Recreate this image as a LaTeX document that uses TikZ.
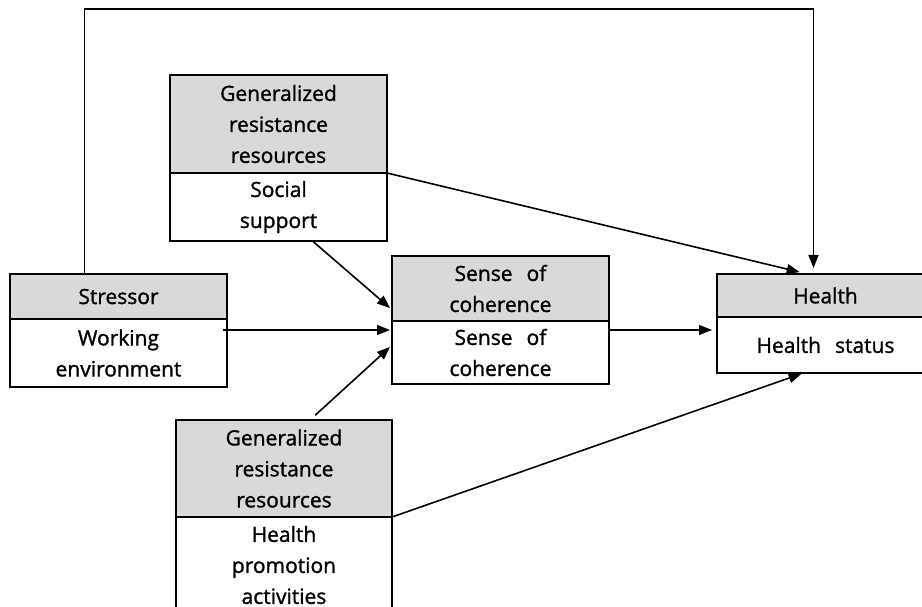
\documentclass[tikz,border=0pt]{standalone}
\usepackage{fontspec}
\setmainfont{Open Sans}[RawFeature={embolden=1.3}]
\usetikzlibrary{arrows.meta,positioning}
\definecolor{headgray}{RGB}{217,217,217}
\tikzset{
  head/.style  = {draw,fill=headgray,minimum width=217pt,text width=205pt,
                  align=center,inner sep=0pt,outer sep=0pt,line width=1.7pt,
                  font=\fontsize{21}{31}\selectfont},
  body/.style  = {head,fill=white},
  arrow/.style = {-{Triangle[length=13pt,width=10pt]},line width=1.6pt},
}
\begin{document}
\begin{tikzpicture}[x=1pt,y=-1pt]
  \clip (0,0) rectangle (922,607);
  \fill[white] (0,0) rectangle (922,607);
  % boxes
  \node[head,anchor=north west,minimum height=98pt] (grrTop) at (170,75) {Generalized\\resistance\\resources};
  \node[body,below=0pt of grrTop,minimum height=68pt] (ssBody) {Social\\support};
  \node[head,anchor=north west,minimum height=45pt] (strHead) at (10,274) {Stressor};
  \node[body,below=0pt of strHead,minimum height=68pt] (strBody) {Working\\environment};
  \node[head,anchor=north west,minimum height=65pt] (socHead) at (392,256) {Sense\ \ of\\coherence};
  \node[body,below=0pt of socHead,minimum height=63pt] (socBody) {Sense\ \ of\\coherence};
  \node[head,anchor=north west,minimum height=43pt] (hlHead) at (717,274) {Health};
  \node[body,below=0pt of hlHead,minimum height=56pt] (hlBody) {Health\ \ status};
  \node[head,anchor=north west,minimum height=97pt,minimum width=216pt] (grrBot) at (176,420) {Generalized\\resistance\\resources};
  \node[body,below=0pt of grrBot,minimum height=96pt,minimum width=216pt] (hpBody) {Health\\promotion\\activities};
  % connectors
  \coordinate (topLine) at (450,9);
  \draw[arrow,shorten >=6pt] ([xshift=-34pt]strHead.north) |- (topLine) -| ([xshift=-12pt]hlHead.north);
  \draw[arrow,shorten >=8pt] (grrTop.south east) -- ([xshift=-18pt]hlHead.north);
  \draw[arrow] ([xshift=34pt]ssBody.south) -- ([yshift=13pt,xshift=-2pt]socHead.south west);
  \draw[arrow] ([yshift=-11pt,xshift=-4pt]strBody.north east) -- ([yshift=-9pt,xshift=-2pt]socBody.north west);
  \draw[arrow,shorten <=7pt] ([xshift=26pt]grrBot.north) -- ([yshift=-26pt,xshift=-2pt]socBody.north west);
  \draw[arrow,shorten >=5pt] ([yshift=-9pt]socBody.north east) -- ([yshift=-13pt]hlBody.north west);
  \draw[arrow,shorten >=2pt] (grrBot.south east) -- ([xshift=-22pt]hlBody.south);
\end{tikzpicture}
\end{document}
